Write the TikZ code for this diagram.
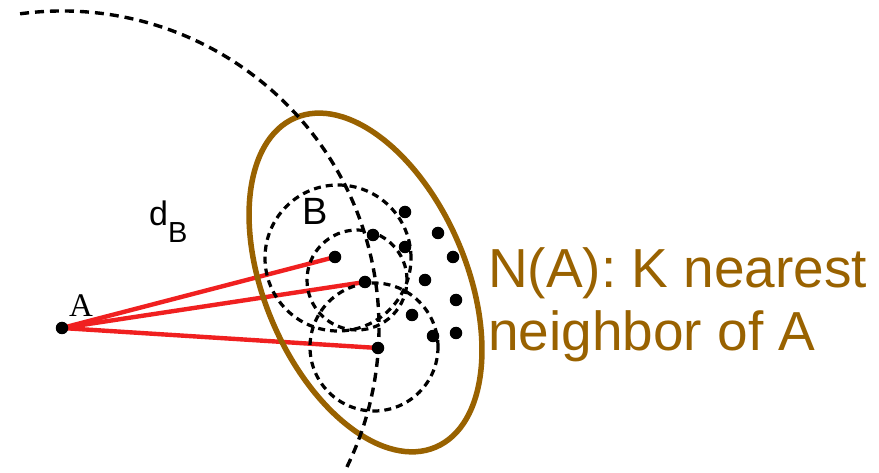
\documentclass[tikz,border=0pt]{standalone}
\usepackage{fontspec}
\usetikzlibrary{backgrounds}
\setmainfont{Liberation Sans}
\newfontfamily\serifA{Liberation Serif}
\definecolor{knnbrown}{RGB}{153,98,0}
\definecolor{linkred}{RGB}{240,32,32}
\begin{document}
\begin{tikzpicture}[x=1pt,y=-1pt,
  dot/.style={circle,fill=black,inner sep=0pt,minimum size=12.5pt},
  ring/.style={draw=black,line width=3.2pt,dash pattern=on 7pt off 5pt},
  bigarc/.style={draw=black,line width=3.4pt,dash pattern=on 9pt off 6pt},
  link/.style={draw=linkred,line width=4.4pt},
  hull/.style={draw=knnbrown,line width=5.5pt},
  lbl/.style={inner sep=0pt,anchor=base west}]
\useasboundingbox (0,0) rectangle (879,473);

% query point and the three chosen neighbours
\node[dot] (A) at (62,328) {};
\node[dot] (B) at (335,257) {};
\node[dot] (C) at (365,282) {};
\node[dot] (D) at (378,348) {};

% remaining points
\node[dot] (p1) at (405,212) {};
\node[dot] (p2) at (373,235) {};
\node[dot] (p3) at (438,233) {};
\node[dot] (p4) at (405,247) {};
\node[dot] (p5) at (453,257) {};
\node[dot] (p6) at (425,280) {};
\node[dot] (p7) at (456,300) {};
\node[dot] (p8) at (412,315) {};
\node[dot] (p9) at (433,336) {};
\node[dot] (p10) at (456,333) {};

\begin{pgfonlayer}{background}
\fill[white] (0,0) rectangle (879,473);

% distance links from A
\draw[link] (A.center) -- (B.center);
\draw[link] (A.center) -- (C.center);
\draw[link] (A.center) -- (D.center);

% neighbourhood N(A)
\coordinate (E) at (365.5,282.5);
\draw[hull,rotate around={-66.9:(E)}] (E) ellipse [x radius=179pt, y radius=101pt];

% radius d_B around A (arc angles measured on the page, y upwards)
\coordinate (S) at (20.1,13.8);
\draw[bigarc] (S) arc[start angle=97.6, end angle=-26, radius=317pt];

% local neighbourhoods
\coordinate (R1) at (338,258);
\coordinate (R2) at (357,280);
\coordinate (R3) at (374,347);
\draw[ring] (R1) circle[radius=73pt];
\draw[ring] (R2) circle[radius=50pt];
\draw[ring] (R3) circle[radius=64pt];
\end{pgfonlayer}

% labels
\node[inner sep=0pt,anchor=base] (labA) at (81,317) {\serifA\fontsize{33}{33}\selectfont A};
\node[lbl] (labB) at (302,225) {\fontsize{38}{38}\selectfont B};
\node[lbl] (labd) at (149,226) {\fontsize{34}{34}\selectfont d\raisebox{-17pt}{\fontsize{29}{29}\selectfont B}};
\node[lbl,text=knnbrown] (t1) at (488,288) {\fontsize{55}{55}\selectfont N(A): K nearest};
\node[lbl,text=knnbrown] (t2) at (488,350) {\fontsize{55}{55}\selectfont neighbor of A};
\end{tikzpicture}
\end{document}
